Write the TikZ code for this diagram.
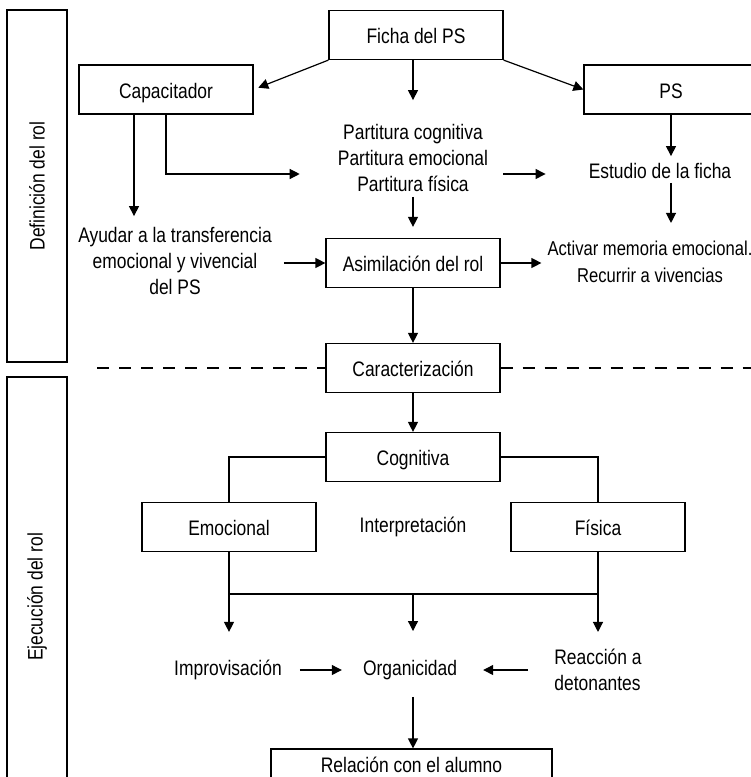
\documentclass[tikz,border=0pt]{standalone}
\usepackage{fontspec}
\setmainfont{Liberation Sans}[FakeStretch=0.83]
\usetikzlibrary{arrows.meta}
\tikzset{
  rol box/.style={draw=black, line width=1.2pt, minimum width=174pt, minimum height=49pt, inner sep=0pt, text height=18.5pt, text depth=1.5pt},
  rol side/.style={draw=black, line width=1.2pt, minimum width=60pt, inner sep=0pt},
  rol text/.style={align=center, inner sep=0pt},
  rol arrow/.style={draw=black, line width=1.2pt, -{Triangle[length=10pt,width=10pt]}},
  rol line/.style={draw=black, line width=1.2pt},
  rol dash/.style={draw=black, line width=1.2pt, dash pattern=on 12pt off 10pt},
}
\begin{document}
\begin{tikzpicture}[x=1pt, y=-1pt, font=\fontsize{21}{26}\selectfont]
  \useasboundingbox (0,0) rectangle (751,777);
  \clip (0,0) rectangle (751,777);
  % Side bands
  \node[rol side, minimum height=352pt] (defrol) at (37,186) {\rotatebox{90}{Definición del rol}};
  \node[rol side, minimum height=440pt] (ejerol) at (37,597) {\rotatebox{90}{Ejecución del rol}};
  % Upper part
  \node[rol box] (ficha) at (416,35) {Ficha del PS};
  \node[rol box] (capa) at (166,89.5) {Capacitador};
  \node[rol box] (ps) at (671,89.5) {PS};
  \node[rol text] (parti) at (413,158) {Partitura cognitiva\\Partitura emocional\\Partitura física};
  \node[rol text] (estudio) at (660,171) {Estudio de la ficha};
  \node[rol text] (ayudar) at (175,261) {Ayudar a la transferencia\\emocional y vivencial\\del PS};
  \node[rol text, font=\fontsize{20}{27}\selectfont] (activar) at (650,262) {Activar memoria emocional.\\Recurrir a vivencias};
  \node[rol box] (asim) at (413,263) {Asimilación del rol};
  \node[rol box] (carac) at (413,368) {Caracterización};
  % Lower part
  \node[rol box] (cogn) at (413,457) {Cognitiva};
  \node[rol box] (emo) at (229,527) {Emocional};
  \node[rol box] (fis) at (598,527) {Física};
  \node[rol text] (interp) at (413,527) {Interpretación};
  \node[rol text] (impro) at (228,670) {Improvisación};
  \node[rol text] (organ) at (410,670) {Organicidad};
  \node[rol text, align=left] (reac) at (598,670) {Reacción a\\detonantes};
  \node[rol box, minimum width=281pt, minimum height=30pt] (rel) at (411.5,764) {Relación con el alumno};
  \coordinate (junta) at (413,594);
  \coordinate (trazoL) at (97,368);
  \coordinate (trazoR) at (760,368);
  % Connectors
  \draw[rol arrow, shorten >=5pt] (ficha.south west) -- (capa.east);
  \draw[rol arrow] (ficha.south east) -- (ps.west);
  \draw[rol arrow, shorten >=24pt] (ficha.south -| parti.north) -- (parti.north);
  \draw[rol arrow, shorten >=11pt] ([xshift=-32pt]capa.south) -- ([xshift=-32pt]capa.south |- ayudar.north);
  \draw[rol arrow, shorten >=38pt] (capa.south) |- ([yshift=-16pt]parti.west);
  \draw[rol arrow, shorten <=15pt, shorten >=43pt] ([yshift=-16pt]parti.east) -- ([yshift=-16pt]parti.east -| estudio.west);
  \draw[rol arrow, shorten >=7pt] (ps.south) -- (ps.south |- estudio.north);
  \draw[rol arrow, shorten <=4pt, shorten >=18pt] (estudio.south -| ps.south) -- (activar.north -| ps.south);
  \draw[rol arrow, shorten <=5pt, shorten >=11pt] (parti.south) -- (asim.north);
  \draw[rol arrow, shorten <=12pt] (ayudar.east |- asim.west) -- (asim.west);
  \draw[rol arrow, shorten >=6pt] (asim.east) -- (asim.east -| activar.west);
  \draw[rol arrow] (asim) -- (carac);
  \draw[rol arrow] (carac) -- (cogn);
  \draw[rol dash] (trazoL) -- (carac.west);
  \draw[rol dash] (carac.east) -- (trazoR);
  \draw[rol line] (cogn.west) -| (emo.north);
  \draw[rol line] (cogn.east) -| (fis.north);
  \draw[rol line] (emo.south |- junta) -- (fis.south |- junta);
  \draw[rol arrow, shorten >=28pt] (emo.south) -- (emo.south |- impro.north);
  \draw[rol arrow, shorten >=29pt] (junta) -- (junta |- organ.north);
  \draw[rol arrow, shorten >=17pt] (fis.south) -- (fis.south |- reac.north);
  \draw[rol arrow, shorten <=18pt, shorten >=21pt] (impro.east) -- (organ.west);
  \draw[rol arrow, shorten <=26pt, shorten >=26pt] (reac.west) -- (organ.east);
  \draw[rol arrow, shorten <=17pt] (junta |- organ.south) -- (junta |- rel.north);
\end{tikzpicture}
\end{document}
